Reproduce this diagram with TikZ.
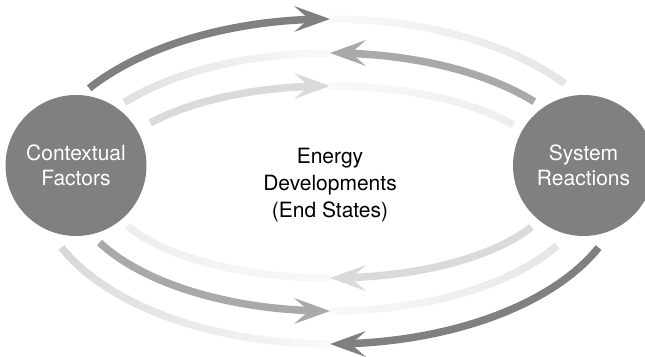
\documentclass[tikz,border=0pt]{standalone}
\usepackage{fontspec}
\setmainfont{TeX Gyre Heros}
\definecolor{dk}{HTML}{808080}
\definecolor{md}{HTML}{A9A9A9}
\definecolor{lt}{HTML}{D9DAD9}
\definecolor{fadeA}{HTML}{F9F9F9}
\definecolor{endA}{HTML}{E5E5E5}
\definecolor{endB}{HTML}{E0E0E0}
\definecolor{endC}{HTML}{EEEEEE}
\definecolor{endD}{HTML}{D8D8D8}
\tikzset{
  circ/.style={circle, fill=dk, minimum size=141pt, inner sep=0pt, text=white, align=center,
    font=\fontsize{21}{25.5}\selectfont},
  midtext/.style={align=center, text=black, font=\fontsize{21}{27}\selectfont},
  band/.style={line width=7.5pt, line cap=butt},
  headR/.style={fill=#1},
}
% gradient arc: cx, cy, a, b, start, end, colour at start, colour at end
\newcommand\gradarc[8]{%
  \foreach \i in {0,...,23} {%
    \pgfmathsetmacro\sa{#5+(#6-#5)*max(\i-0.25,0)/24}%
    \pgfmathsetmacro\ea{#5+(#6-#5)*(\i+1)/24}%
    \pgfmathtruncatemacro\p{100-100*\i/23}%
    \draw[band, #7!\p!#8] ([shift={(#1,#2)}]\sa:#3pt and #4pt)
      arc[start angle=\sa, end angle=\ea, x radius=#3pt, y radius=#4pt];
  }%
}
\newcommand\solidarc[7]{%
  \draw[band, #7] ([shift={(#1,#2)}]#5:#3pt and #4pt)
    arc[start angle=#5, end angle=#6, x radius=#3pt, y radius=#4pt];
}
\newcommand\headright[2]{\fill[#2] (330,#1) -- (294,#1+13) -- (309,#1) -- (294,#1-13) -- cycle;}
\newcommand\headleft[2]{\fill[#2] (330,#1) -- (366,#1+13) -- (351,#1) -- (366,#1-13) -- cycle;}
\begin{document}
\begin{tikzpicture}[x=1pt,y=1pt]
\useasboundingbox (0,0) rectangle (645,356);
\clip (0,0) rectangle (645,356);

% ---- outer ellipse E1: centre (330,174.5), a=294, b=162.5
% arc 1 (top): dark left, light right
\gradarc{330}{174.5}{294}{162.5}{90}{37}{fadeA}{endA}
\solidarc{330}{174.5}{294}{162.5}{145}{92.9}{dk}
\headright{337}{dk}
% arc 6 (bottom): dark right, light left
\gradarc{330}{174.5}{294}{162.5}{-90}{-156}{fadeA}{endD}
\solidarc{330}{174.5}{294}{162.5}{-24}{-87.1}{dk}
\headleft{12}{dk}

% ---- middle ellipse E2: centre (330,174), a=261, b=129
% arc 2 (top): medium right, light left
\gradarc{330}{174}{261}{129}{90}{142}{fadeA}{endB}
\solidarc{330}{174}{261}{129}{38.5}{86.7}{md}
\headleft{303}{md}
% arc 5 (bottom): medium left, light right
\gradarc{330}{174}{261}{129}{-90}{-29.5}{fadeA}{endA}
\solidarc{330}{174}{261}{129}{-152}{-93.3}{md}
\headright{45}{md}

% ---- inner ellipse E3: centre (330,174), a=228, b=96
% arc 3 (top): light-grey left, faint right
\gradarc{330}{174}{228}{96}{90}{36.5}{fadeA}{endC}
\solidarc{330}{174}{228}{96}{142}{93.8}{lt}
\headright{270}{lt}
% arc 4 (bottom): light-grey right, faint left
\gradarc{330}{174}{228}{96}{-90}{-152.7}{fadeA}{endC}
\solidarc{330}{174}{228}{96}{-28}{-86.2}{lt}
\headleft{78}{lt}

% ---- nodes
\node[circ] (cf) at (76,190.5) {Contextual\\Factors};
\node[circ] (sr) at (583.5,190.5) {System\\Reactions};
\node[midtext] (ed) at (330,171) {Energy\\Developments\\(End States)};
\end{tikzpicture}
\end{document}
